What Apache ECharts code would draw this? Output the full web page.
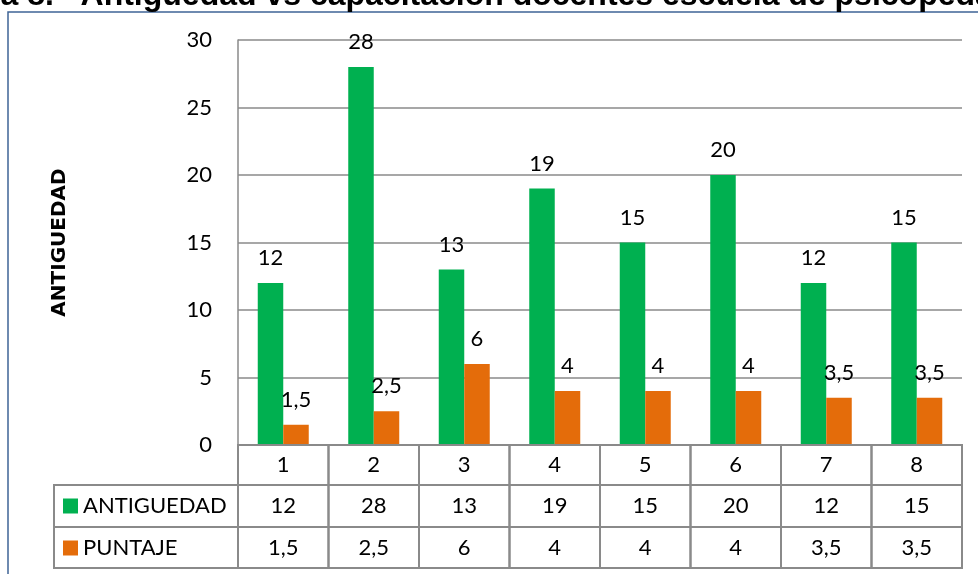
<!DOCTYPE html>
<html>
<head>
<meta charset="utf-8">
<script src="https://cdn.jsdelivr.net/npm/echarts@6/dist/echarts.min.js"></script>
<style>
html,body{margin:0;padding:0;background:#fff;}
#c{width:978px;height:574px;}
</style>
</head>
<body>
<div id="c"></div>
<script>
var categories = ['1', '2', '3', '4', '5', '6', '7', '8'];
var antiguedad = [12, 28, 13, 19, 15, 20, 12, 15];
var puntaje = [1.5, 2.5, 6, 4, 4, 4, 3.5, 3.5];
var seriesNames = ['ANTIGUEDAD', 'PUNTAJE'];
var yTicks = [0, 5, 10, 15, 20, 25, 30];
var titleText = 'Gráfica 8.   Antiguedad vs capacitación docentes escuela de psicopedagogía';
var yAxisTitle = 'ANTIGUEDAD';

var GREEN = '#00B050', ORANGE = '#E46C0A', GRID = '#8a8a8a', FONT = 'Lato', FS = 22;
function fmt(v){ return String(v).replace('.', ','); }

var chart = echarts.init(document.getElementById('c'));

function tableItem(params, api){
  var i = params.dataIndex;
  var p = api.coord([i, 0]);
  var w = api.size([1, 0])[0];
  var x0 = p[0] - w / 2, y0 = p[1];
  var rows = [[y0, 40, categories[i]], [y0 + 40, 42, fmt(antiguedad[i])], [y0 + 82, 41, fmt(puntaje[i])]];
  var children = [];
  rows.forEach(function(r){
    children.push({type:'rect', shape:{x:x0, y:r[0], width:w, height:r[1]},
      style:{fill:'none', stroke:GRID, lineWidth:2}});
    children.push({type:'text', x:p[0], y:r[0] + r[1] / 2,
      style:{text:r[2], fill:'#000', font:FS + 'px ' + FONT, align:'center', verticalAlign:'middle'}});
  });
  if (i === 0) {
    var lx = 54;
    children.push({type:'rect', shape:{x:lx, y:y0 + 40, width:x0 - lx, height:42},
      style:{fill:'none', stroke:GRID, lineWidth:2}});
    children.push({type:'rect', shape:{x:lx, y:y0 + 82, width:x0 - lx, height:41},
      style:{fill:'none', stroke:GRID, lineWidth:2}});
  }
  return {type:'group', children:children};
}

var labelCfg = {show: true, position: 'top', distance: 14, fontSize: FS, color: '#000', fontFamily: FONT,
  formatter: function(p){ return fmt(p.value); }};

var option = {
  animation: false,
  backgroundColor: '#fff',
  textStyle: {fontFamily: FONT},
  graphic: [
    {type:'rect', shape:{x:8, y:12, width:1100, height:700}, style:{fill:'none', stroke:'#3F6496', lineWidth:1.5}, z:-1},
    {type:'text', left:-92, top:-20, style:{text:titleText, font:'bold 32px "Liberation Sans"', fill:'#000'}}
  ],
  legend: {
    orient: 'vertical', left: 63, top: 493, padding: 0,
    data: seriesNames, itemWidth: 15, itemHeight: 15, itemGap: 16,
    icon: 'rect', selectedMode: false,
    textStyle: {fontSize: FS, fontFamily: FONT, color: '#000', lineHeight: 26}
  },
  grid: {left: 238, right: 16, top: 40, bottom: 129, containLabel: false},
  xAxis: {
    type: 'category', data: categories,
    axisLine: {show: true, lineStyle: {color: GRID, width: 2}},
    axisTick: {show: false}, axisLabel: {show: false}
  },
  yAxis: {
    type: 'value', min: 0, max: 30, interval: 5,
    name: yAxisTitle, nameLocation: 'middle', nameGap: 168, nameRotate: 90,
    nameTextStyle: {fontFamily: 'DejaVu Sans', fontWeight: 'bold', fontSize: 20, color: '#000'},
    axisLine: {show: true, lineStyle: {color: GRID, width: 1.5}},
    axisTick: {show: false},
    axisLabel: {margin: 26, fontSize: FS, color: '#000', fontFamily: FONT,
      formatter: function(v){ return yTicks.indexOf(v) >= 0 ? fmt(v) : ''; }},
    splitLine: {show: true, lineStyle: {color: GRID, width: 1.5}}
  },
  series: [
    {name: seriesNames[0], type: 'bar', data: antiguedad, barWidth: 25.5, barGap: '0%',
      itemStyle: {color: GREEN}, label: labelCfg},
    {name: seriesNames[1], type: 'bar', data: puntaje, barWidth: 25.5, barGap: '0%',
      itemStyle: {color: ORANGE}, label: labelCfg},
    {name: 'tabla', type: 'custom', data: categories.map(function(c, i){ return [i, 0]; }),
      renderItem: tableItem, clip: false, silent: true, z: 3,
      encode: {x: 0, y: 1}}
  ]
};
chart.setOption(option);
</script>
</body>
</html>
